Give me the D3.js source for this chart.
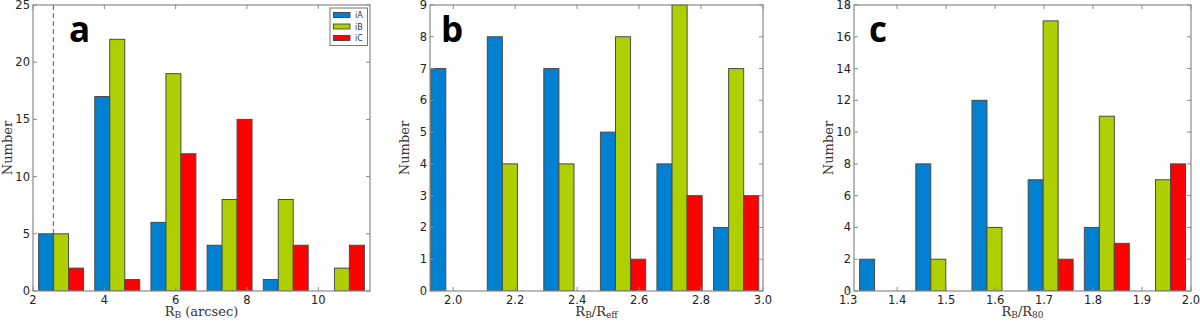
<!DOCTYPE html>
<html>
<head>
<meta charset="utf-8">
<script src="https://cdn.jsdelivr.net/npm/d3@7"></script>
<style>
  body { margin: 0; background: #fff; }
  svg { display: block; }
  .tick-label { font-family: "DejaVu Sans", sans-serif; font-size: 11.5px; fill: #222; }
  .axis-title { font-family: "DejaVu Serif", "Liberation Serif", serif; font-size: 13px; fill: #333; }
  .panel-letter { font-family: "Open Sans", sans-serif; font-weight: bold; font-size: 35px; fill: #000; }
  .legend-label { font-family: "DejaVu Sans", sans-serif; font-size: 8px; fill: #333; }
</style>
</head>
<body>
<svg id="chart" width="1200" height="322"></svg>
<script>
'use strict';

// ========== data

const seriesNames = ['iA', 'iB', 'iC'];
const seriesColors = ['#0080d0', '#afd000', '#ff0000'];

// panel a : R_B (arcsec)
const aBinStart = 2.0, aBinWidth = 1.575;
const aIA = [5, 17, 6, 4, 1, 0];
const aIB = [5, 22, 19, 8, 8, 2];
const aIC = [2, 1, 12, 15, 4, 4];
const aXTicks = [2, 4, 6, 8, 10];
const aYTicks = [0, 5, 10, 15, 20, 25];
const aCut = 2.57;

// panel b : R_B / R_eff
const bBinStart = 1.909, bBinWidth = 0.1826;
const bIA = [7, 8, 7, 5, 4, 2];
const bIB = [0, 4, 4, 8, 9, 7];
const bIC = [0, 0, 0, 1, 3, 3];
const bXTicks = [2.0, 2.2, 2.4, 2.6, 2.8, 3.0];
const bYTicks = [0, 1, 2, 3, 4, 5, 6, 7, 8, 9];

// panel c : R_B / R_80
const cBinStart = 1.312, cBinWidth = 0.1147;
const cIA = [2, 8, 12, 7, 4, 0];
const cIB = [0, 2, 4, 17, 11, 7];
const cIC = [0, 0, 0, 2, 3, 8];
const cXTicks = [1.3, 1.4, 1.5, 1.6, 1.7, 1.8, 1.9, 2.0];
const cYTicks = [0, 2, 4, 6, 8, 10, 12, 14, 16, 18];

// ========== layout

const panels = [
  { id: 'a', left: 33, right: 370, xDomain: [2, 11.45], yDomain: [0, 25],
    binStart: aBinStart, binWidth: aBinWidth, values: [aIA, aIB, aIC],
    xTicks: aXTicks, yTicks: aYTicks, xFmt: d3.format('d'), yFmt: d3.format('d'),
    xSub: 'B', xRest: ' (arcsec)', xSub2: null, letterX: 69, legend: true, cut: aCut },
  { id: 'b', left: 430, right: 763, xDomain: [1.925, 3.0], yDomain: [0, 9],
    binStart: bBinStart, binWidth: bBinWidth, values: [bIA, bIB, bIC],
    xTicks: bXTicks, yTicks: bYTicks, xFmt: d3.format('.1f'), yFmt: d3.format('d'),
    xSub: 'B', xRest: '/R', xSub2: 'eff', letterX: 441, legend: false },
  { id: 'c', left: 854, right: 1191, xDomain: [1.312, 2.0], yDomain: [0, 18],
    binStart: cBinStart, binWidth: cBinWidth, values: [cIA, cIB, cIC],
    xTicks: cXTicks, yTicks: cYTicks, xFmt: d3.format('.1f'), yFmt: d3.format('d'),
    xSub: 'B', xRest: '/R', xSub2: '80', letterX: 869, legend: false }
];

const plotTop = 5, plotBottom = 291;
const svg = d3.select('#chart');

panels.forEach(function(p) {
  const x = d3.scaleLinear().domain(p.xDomain).range([p.left, p.right]);
  const y = d3.scaleLinear().domain(p.yDomain).range([plotBottom, plotTop]);
  const g = svg.append('g').attr('class', 'panel-' + p.id);

  const clipId = 'clip-' + p.id;
  svg.append('clipPath').attr('id', clipId)
    .append('rect')
    .attr('x', p.left).attr('y', plotTop - 1)
    .attr('width', p.right - p.left).attr('height', plotBottom - plotTop + 1);

  // bars (matplotlib-style multi histogram: 0.8 of bin split over series)
  const bars = [];
  p.values.forEach(function(vals, s) {
    vals.forEach(function(v, i) {
      const e = p.binStart + i * p.binWidth;
      const w = 0.8 * p.binWidth / 3;
      bars.push({ x0: e + 0.1 * p.binWidth + s * w, x1: e + 0.1 * p.binWidth + (s + 1) * w, v: v, s: s });
    });
  });
  g.append('g').attr('clip-path', 'url(#' + clipId + ')')
    .selectAll('rect').data(bars).enter().append('rect')
    .attr('x', d => x(d.x0))
    .attr('width', d => x(d.x1) - x(d.x0))
    .attr('y', d => y(d.v))
    .attr('height', d => y(0) - y(d.v))
    .attr('fill', d => seriesColors[d.s])
    .attr('stroke', '#4a4a4a')
    .attr('stroke-width', 1);

  if (p.cut !== undefined) {
    g.append('line')
      .attr('x1', x(p.cut)).attr('x2', x(p.cut))
      .attr('y1', plotTop).attr('y2', plotBottom)
      .attr('stroke', '#555').attr('stroke-width', 1)
      .attr('stroke-dasharray', '5,3');
  }

  // frame
  g.append('rect')
    .attr('x', p.left).attr('y', plotTop)
    .attr('width', p.right - p.left).attr('height', plotBottom - plotTop)
    .attr('fill', 'none').attr('stroke', '#8a8a8a').attr('stroke-width', 1.2);

  // inward ticks on all sides
  const tk = 4;
  const tg = g.append('g').attr('stroke', '#8a8a8a').attr('stroke-width', 1);
  p.xTicks.forEach(function(t) {
    tg.append('line').attr('x1', x(t)).attr('x2', x(t)).attr('y1', plotBottom).attr('y2', plotBottom - tk);
    tg.append('line').attr('x1', x(t)).attr('x2', x(t)).attr('y1', plotTop).attr('y2', plotTop + tk);
  });
  p.yTicks.forEach(function(t) {
    tg.append('line').attr('x1', p.left).attr('x2', p.left + tk).attr('y1', y(t)).attr('y2', y(t));
    tg.append('line').attr('x1', p.right).attr('x2', p.right - tk).attr('y1', y(t)).attr('y2', y(t));
  });

  // tick labels
  g.selectAll('.xl').data(p.xTicks).enter().append('text')
    .attr('class', 'tick-label')
    .attr('x', d => x(d)).attr('y', 304)
    .attr('text-anchor', 'middle')
    .text(d => p.xFmt(d));
  g.selectAll('.yl').data(p.yTicks).enter().append('text')
    .attr('class', 'tick-label')
    .attr('x', p.left - 3).attr('y', d => y(d) + 4)
    .attr('text-anchor', 'end')
    .text(d => p.yFmt(d));

  // y title
  g.append('text')
    .attr('class', 'axis-title')
    .attr('transform', 'translate(' + (p.left - 21) + ',' + ((plotTop + plotBottom) / 2) + ') rotate(-90)')
    .attr('text-anchor', 'middle')
    .text('Number');

  // x title
  const xt = g.append('text')
    .attr('class', 'axis-title')
    .attr('x', (p.left + p.right) / 2).attr('y', 316)
    .attr('text-anchor', 'middle');
  xt.append('tspan').text('R');
  xt.append('tspan').attr('font-size', '9px').attr('dy', 2).text(p.xSub);
  if (p.xSub2) {
    xt.append('tspan').attr('dy', -2).text(p.xRest);
    xt.append('tspan').attr('font-size', '9px').attr('dy', 2).text(p.xSub2);
  } else {
    xt.append('tspan').attr('dy', -2).text(p.xRest);
  }

  // panel letter
  g.append('text')
    .attr('class', 'panel-letter')
    .attr('x', p.letterX).attr('y', 42)
    .text(p.id);

  // legend
  if (p.legend) {
    const lg = g.append('g');
    lg.append('rect')
      .attr('x', 330).attr('y', 8).attr('width', 37.5).attr('height', 37.5)
      .attr('fill', '#fff').attr('stroke', '#777').attr('stroke-width', 1);
    seriesNames.forEach(function(name, i) {
      const cy = 15 + i * 11.5;
      lg.append('rect')
        .attr('x', 333.5).attr('y', cy - 2.5).attr('width', 16.5).attr('height', 5)
        .attr('fill', seriesColors[i]).attr('stroke', '#333').attr('stroke-width', 0.8);
      lg.append('text')
        .attr('class', 'legend-label')
        .attr('x', 355).attr('y', cy + 3)
        .text(name);
    });
  }
});
</script>
</body>
</html>
